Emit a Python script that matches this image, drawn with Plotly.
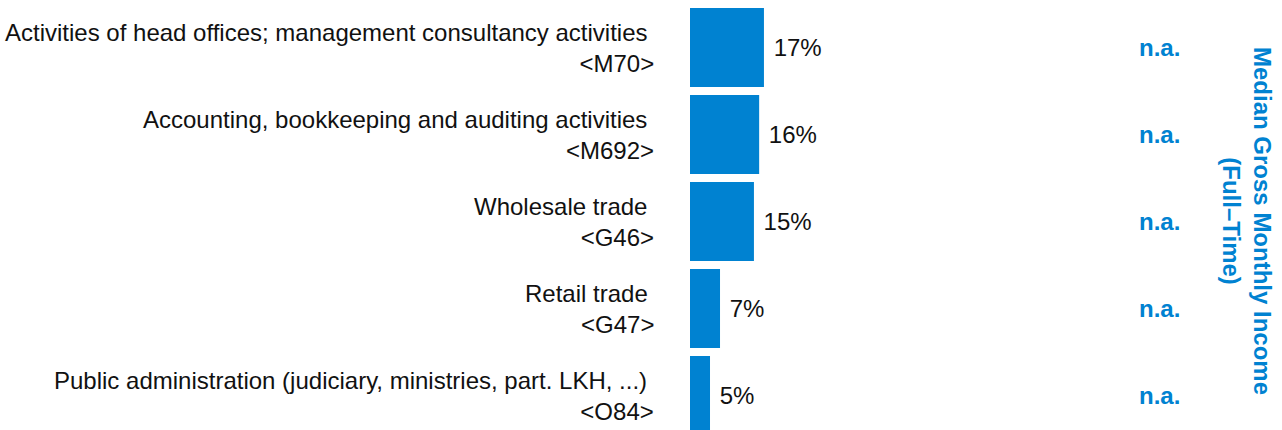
import plotly.graph_objects as go

categories = [
    "Activities of head offices; management consultancy activities",
    "Accounting, bookkeeping and auditing activities",
    "Wholesale trade",
    "Retail trade",
    "Public administration (judiciary, ministries, part. LKH, ...)",
]
codes = ["<M70>", "<M692>", "<G46>", "<G47>", "<O84>"]
shares = [17.0, 15.9, 14.7, 6.9, 4.6]
income = ["n.a.", "n.a.", "n.a.", "n.a.", "n.a."]
income_title = "Median Gross Monthly Income<br>(Full\u2013Time)"

BLUE = "#0082D1"
FONT = "Arial, Liberation Sans, sans-serif"
W, H = 1282, 430

pos = list(range(len(categories)))

fig = go.Figure()
fig.add_trace(go.Bar(
    y=pos, x=shares, orientation="h",
    marker=dict(color=BLUE, line=dict(width=0)),
    width=0.908,
    texttemplate=" %{x:.0f}%",
    textposition="outside",
    textfont=dict(family=FONT, size=24, color="#111111"),
    cliponaxis=False,
    hoverinfo="skip",
))

for i, (cat, code) in enumerate(zip(categories, codes)):
    fig.add_annotation(
        x=656 / W, xref="paper", y=i, yref="y",
        text=cat.replace("&", "&amp;").replace("<", "&lt;") + "\u00a0<br>" + code.replace("<", "&lt;").replace(">", "&gt;"),
        showarrow=False, xanchor="right", yanchor="middle", align="right",
        font=dict(family=FONT, size=24, color="#111111"),
    )
for i, v in enumerate(income):
    fig.add_annotation(
        x=1159 / W, xref="paper", y=i, yref="y",
        text=v, showarrow=False, xanchor="center", yanchor="middle",
        font=dict(family=FONT, size=24, color=BLUE, weight="bold"),
    )

fig.add_annotation(
    x=1247 / W, xref="paper", y=1 - 221 / H, yref="paper",
    text=income_title, textangle=90, showarrow=False,
    xanchor="center", yanchor="middle", align="center",
    font=dict(family=FONT, size=24, color=BLUE, weight="bold"),
)

top = -47.5 / 87
bottom = top + H / 87
fig.update_layout(
    width=W, height=H,
    margin=dict(l=0, r=0, t=0, b=0),
    paper_bgcolor="white", plot_bgcolor="white",
    showlegend=False,
    xaxis=dict(domain=[690 / W, 1], range=[0, (W - 690) / 4.35],
               visible=False, fixedrange=True),
    yaxis=dict(range=[bottom, top], visible=False, fixedrange=True),
    bargap=0.092,
)

fig.write_html("out.html",
               config={"displayModeBar": False},
               post_script="document.body.style.margin='0';document.body.style.overflow='hidden';")
